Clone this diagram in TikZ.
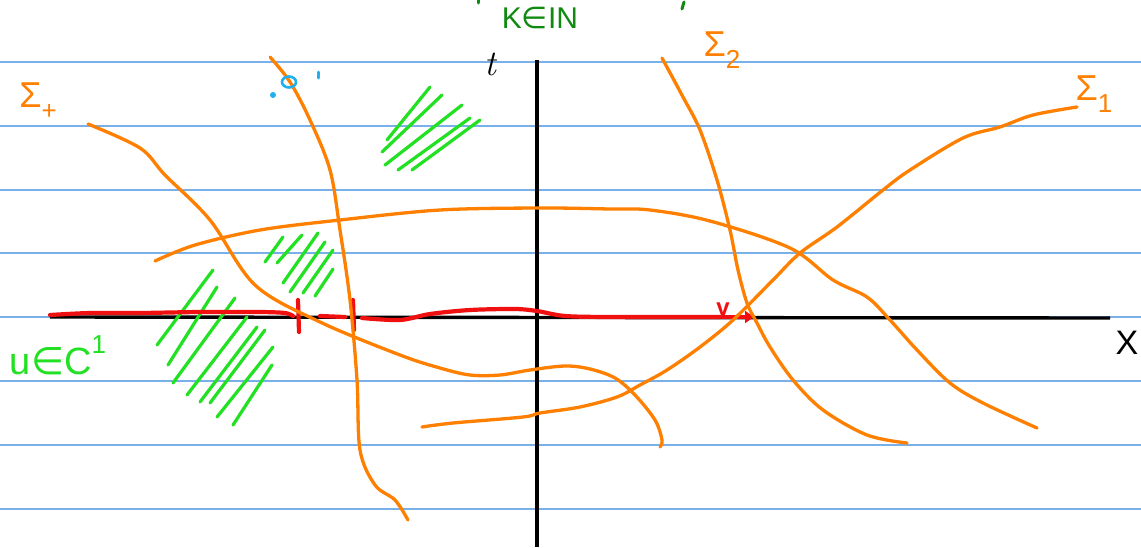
\documentclass[tikz,border=0pt]{standalone}
\usepackage{fontspec}
\setsansfont{Liberation Sans}
\newfontfamily\djfont{DejaVu Sans}
\usetikzlibrary{arrows.meta}
\definecolor{ruled}{HTML}{7AB0EA}
\definecolor{sk}{HTML}{FF8000}
\definecolor{hatch}{HTML}{22E022}
\definecolor{dgreen}{HTML}{108A10}
\definecolor{redink}{HTML}{F01010}
\definecolor{cyanink}{HTML}{20B0F0}
\tikzset{
  rule/.style={ruled, line width=1.1pt},
  curve/.style={sk, line width=3.3pt, line cap=round, line join=round},
  hatchline/.style={hatch, line width=3.2pt, line cap=round},
  axis/.style={black, line width=3.4pt},
  redline/.style={redink, line width=4.2pt, line cap=round, line join=round},
  lab/.style={inner sep=0pt},
  siglab/.style={lab, text=sk, font=\fontsize{36}{36}\selectfont\sffamily},
}
\newcommand{\mysub}[1]{\raisebox{-0.35em}{\fontsize{26}{26}\selectfont #1}}
\begin{document}
\begin{tikzpicture}[x=1pt,y=-1pt]
\useasboundingbox (0,0) rectangle (1141,547);
\fill[white] (0,0) rectangle (1141,547);
% ruled lines
\foreach \yy in {62,126,190,253,317,381,445,509}
  \draw[rule] (0,\yy) -- (1141,\yy);
% axes
\coordinate (xs) at (50,317);
\coordinate (xe) at (1110,318);
\coordinate (ts) at (537,60);
\coordinate (te) at (537,547);
\draw[axis] (xs) -- (xe);
\draw[axis] (ts) -- (te);
\node[lab, font=\fontsize{36}{36}\selectfont\itshape] (tlab) at (490,64) {t};
\node[lab, font=\fontsize{34}{34}\selectfont\sffamily] (xlab) at (1127,343) {X};
% green hatching
\foreach \a/\b/\c/\d in {387/140/430/87, 382/152/442/95, 385/165/462/105, 398/170/470/118, 412/170/480/120}
  \draw[hatchline] (\a,\b) -- (\c,\d);
\foreach \a/\b/\c/\d in {265/262/283/237, 277/263/302/235, 283/283/318/233, 290/292/325/242, 303/293/333/250, 315/296/333/269}
  \draw[hatchline] (\a,\b) -- (\c,\d);
\foreach \a/\b/\c/\d in {157/345/213/270, 168/365/217/287, 173/383/235/298, 187/395/247/317, 200/402/257/327, 210/403/265/330, 217/417/273/347, 233/425/272/365}
  \draw[hatchline] (\a,\b) -- (\c,\d);
% red segment on the x-axis
\draw[redline] plot[smooth, tension=0.5] coordinates {(50,315) (90,313) (140,313) (200,312) (260,312) (285,313) (293,316)};
\draw[redline] (298,300) -- (299,332);
\draw[redline] (320,316) -- (345,317);
\draw[redline] (353,300) -- (354,330);
\draw[redline] plot[smooth, tension=0.5] coordinates {(362,318) (400,320) (430,314) (470,310) (515,309) (537,311) (565,316) (610,317) (700,317) (720,317)};
\coordinate (vend) at (754,317);
\draw[redline, -{Triangle[length=9pt,width=12pt]}] (722,317) -- (vend);
\node[lab, text=redink, font=\fontsize{24}{24}\selectfont\bfseries\sffamily] (vlab) at (723,309) {v};
% orange curves
\draw[curve] plot[smooth, tension=0.55] coordinates {(88,124) (140,148) (165,175) (210,220) (255,285) (320,322) (400,355) (440,368) (470,375) (500,375) (530,370) (565,366) (590,369) (615,378) (635,395) (655,420) (662,440) (660,447)};
\draw[curve] plot[smooth, tension=0.55] coordinates {(270,57) (290,82) (310,120) (330,170) (340,230) (350,300) (357,380) (360,450) (375,485) (395,500) (408,520)};
\draw[curve] plot[smooth, tension=0.55] coordinates {(155,261) (195,245) (260,230) (340,220) (440,210) (540,208) (610,209) (650,210) (710,221) (790,248) (833,280) (867,297) (890,320) (917,350) (950,383) (983,403) (1037,428)};
\draw[curve] plot[smooth, tension=0.55] coordinates {(662,58) (683,97) (700,130) (717,180) (730,230) (738,270) (747,303) (757,323) (770,347) (793,380) (823,410) (867,435) (907,443)};
\draw[curve] plot[smooth, tension=0.55] coordinates {(422,427) (453,423) (523,417) (540,413) (580,407) (617,397) (640,385) (667,370) (700,347) (733,320) (773,280) (800,253) (837,227) (883,190) (910,170) (963,138) (1000,127) (1033,115) (1077,107)};
% labels
\node[siglab] (s2) at (722,50) {Σ\mysub{2}};
\node[siglab] (s1) at (1094,94) {Σ\mysub{1}};
\node[siglab] (sp) at (38,101) {Σ\mysub{+}};
\node[lab, text=dgreen, font=\fontsize{30}{30}\selectfont\sffamily] (kn) at (540,18) {K{\djfont ∈}IN};
\node[lab, text=hatch, font=\fontsize{38}{38}\selectfont\sffamily] (uc) at (58,355) {u{\djfont ∈}C\raisebox{0.55em}{\fontsize{26}{26}\selectfont 1}};
% small cropped marks at top
\draw[dgreen, line width=3pt, line cap=round] (478,0) -- (478,3);
\draw[dgreen, line width=3pt, line cap=round] (684,2) -- (682,9);
% cyan marks
\draw[cyanink, line width=2.6pt] (289,82) ellipse (7pt and 5.5pt);
\fill[cyanink] (273,95) circle (3pt);
\draw[cyanink, line width=3pt, line cap=round] (318,72) -- (318,78);
\end{tikzpicture}
\end{document}
